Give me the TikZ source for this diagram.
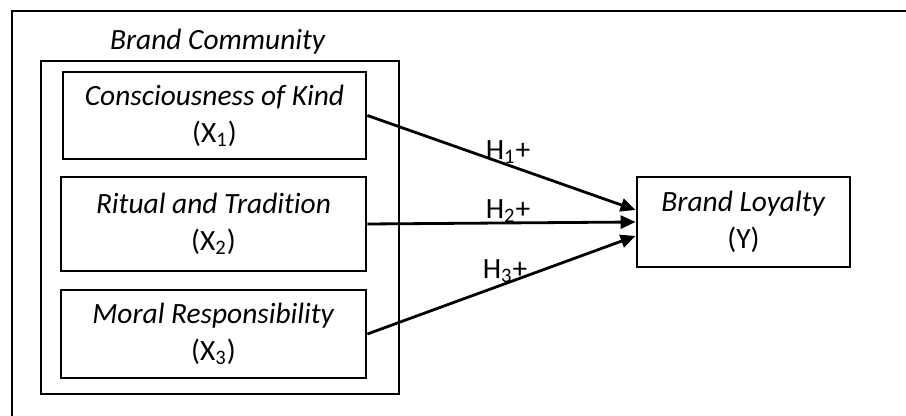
\documentclass[tikz,border=0pt]{standalone}
\usepackage{fontspec}
\setmainfont{Carlito}[Ligatures=NoCommon]
\usepackage{tikz}
\usetikzlibrary{arrows.meta}

\begin{document}
\begin{tikzpicture}[x=0.5pt,y=-0.5pt,line width=1.4pt,
    varbox/.style={draw,rectangle,align=center,inner sep=0pt},
    hyp/.style={-{Triangle[length=7.5pt,width=6.5pt]}},
    every node/.style={font=\fontsize{14.7}{18.5}\selectfont}]
        \useasboundingbox (0,0) rectangle (906,416);
        \draw (12,416) -- (12,11) -- (906,11);
        \node (title) at (218,42) {\textit{Brand Community}};
        \node[varbox,minimum width=179pt,minimum height=166.5pt] (comm) at (220,227.5) {};
        \node[varbox,minimum width=151.5pt,minimum height=43.5pt] (x1) at (214.5,115.5) {\textit{Consciousness of Kind}\\(X\textsubscript{1})};
        \node[varbox,minimum width=152.5pt,minimum height=47pt] (x2) at (213.5,224) {\textit{Ritual and Tradition}\\(X\textsubscript{2})};
        \node[varbox,minimum width=152.5pt,minimum height=44pt] (x3) at (213.5,334) {\textit{Moral Responsibility}\\(X\textsubscript{3})};
        \node[varbox,minimum width=106.5pt,minimum height=45pt] (y) at (743.5,222) {\textit{Brand Loyalty}\\(Y)};
        \draw[hyp] (x1.east) -- ([yshift=6pt]y.west);
        \draw[hyp] (x2.east) -- (y.west);
        \draw[hyp] (x3.east) -- ([yshift=-7pt]y.west);
        \node (h1) at (508,152) {H\textsubscript{1}+};
        \node (h2) at (508,211) {H\textsubscript{2}+};
        \node (h3) at (505,271) {H\textsubscript{3}+};
    \end{tikzpicture}
\end{document}
